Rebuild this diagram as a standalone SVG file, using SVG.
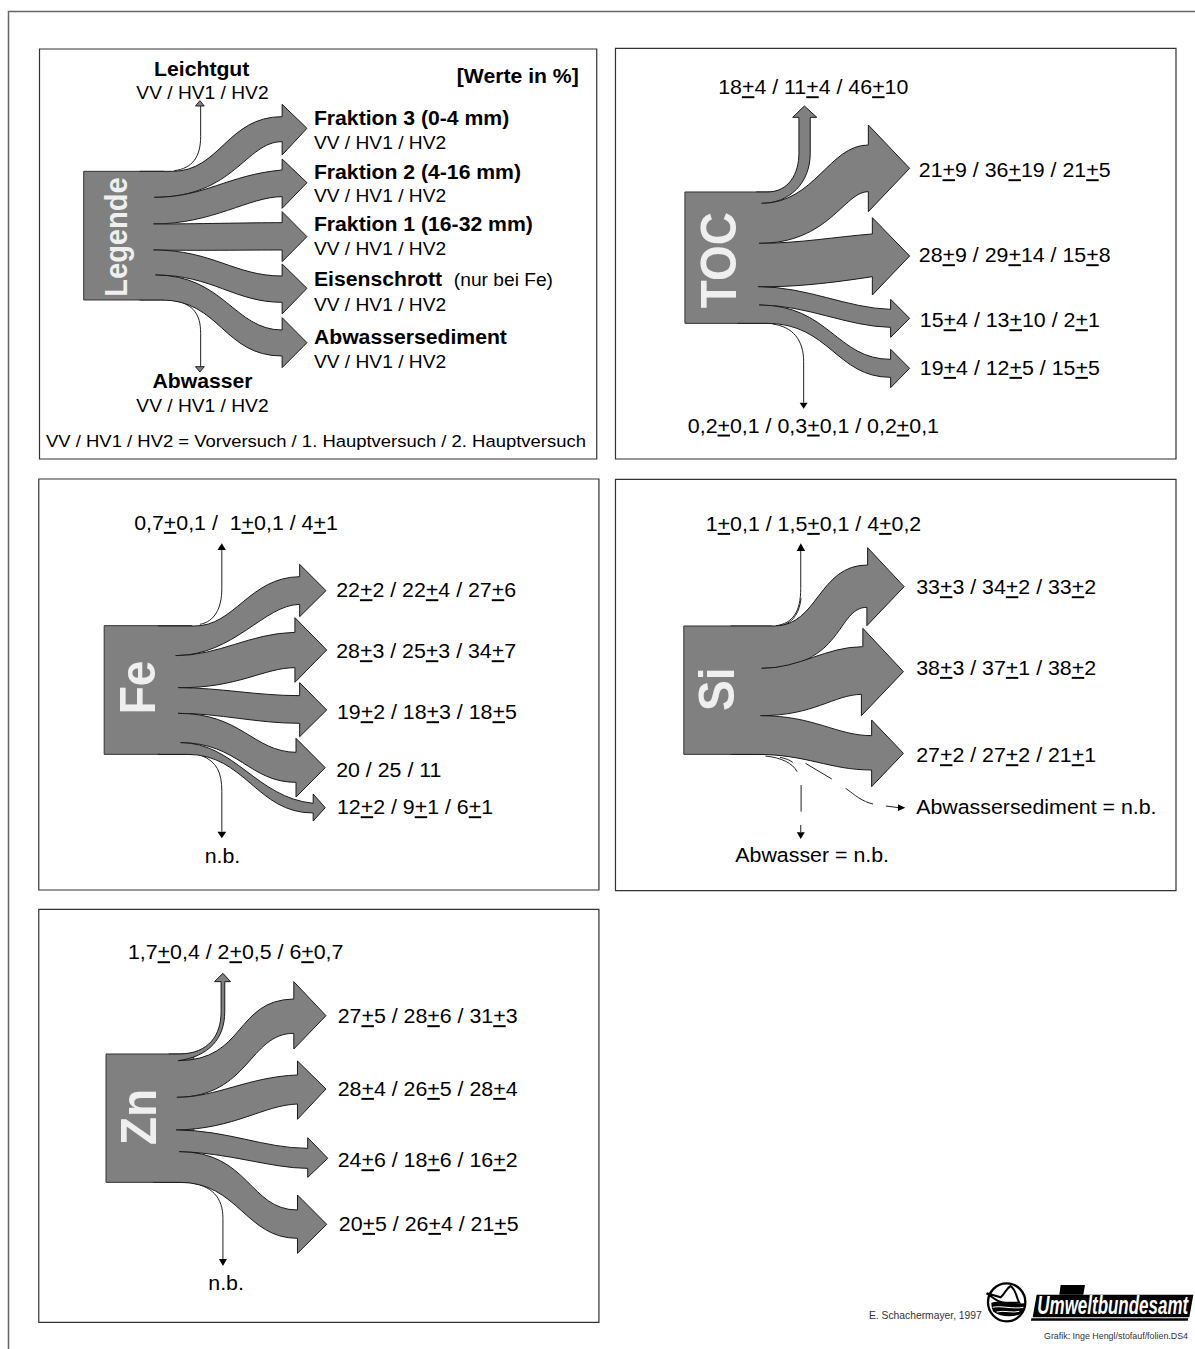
<svg xmlns="http://www.w3.org/2000/svg" width="1195" height="1349" viewBox="0 0 1195 1349">
<style>
text{font-family:"Liberation Sans",Arial,sans-serif;fill:#000}
.p{fill:#fff;stroke:#333;stroke-width:1.2;vector-effect:non-scaling-stroke}
.b{fill:#808080;stroke:#333;stroke-width:1;vector-effect:non-scaling-stroke}
.f{fill:#808080;stroke:#1a1a1a;stroke-width:1;vector-effect:non-scaling-stroke}
.l{fill:none;stroke:#222;stroke-width:1;vector-effect:non-scaling-stroke}
.h{fill:#000;stroke:none}
.hg{fill:#808080;stroke:#222;stroke-width:1;vector-effect:non-scaling-stroke}
.s{font-size:52.5px}
.bd{font-size:58px;font-weight:bold}
.v{font-size:58.5px}
.m{text-anchor:middle}
.k{font-size:138px;font-weight:bold;fill:#efefef}
.u{text-decoration:underline}
</style>
<path d="M8.5 1349V11.5H1195" fill="none" stroke="#666" stroke-width="1.5"/>

<g id="legend" transform="translate(30 40) scale(.3654 .33333)">
<rect class="p" x="26" y="27" width="1525" height="1230"/>
<rect class="b" x="147" y="394" width="220" height="386"/>
<text class="k" style="font-size:87px" transform="translate(265 770) rotate(-90)">Legende</text>
<text class="bd m" x="470" y="107">Leichtgut</text>
<text class="s m" x="472" y="177">VV / HV1 / HV2</text>
<text class="bd" x="1168" y="130">[Werte in %]</text>
<text class="bd" x="777" y="255">Fraktion 3 (0-4 mm)</text>
<text class="s" x="777" y="327">VV / HV1 / HV2</text>
<text class="bd" x="777" y="418">Fraktion 2 (4-16 mm)</text>
<text class="s" x="777" y="487">VV / HV1 / HV2</text>
<text class="bd" x="777" y="573">Fraktion 1 (16-32 mm)</text>
<text class="s" x="777" y="645">VV / HV1 / HV2</text>
<text class="bd" x="777" y="738">Eisenschrott</text>
<text class="s" x="1160" y="738">(nur bei Fe)</text>
<text class="s" x="777" y="812">VV / HV1 / HV2</text>
<text class="bd" x="777" y="913">Abwassersediment</text>
<text class="s" x="777" y="985">VV / HV1 / HV2</text>
<text class="bd m" x="472" y="1043">Abwasser</text>
<text class="s m" x="472" y="1115">VV / HV1 / HV2</text>
<text class="s" style="font-size:50.5px" x="44" y="1222">VV / HV1 / HV2 = Vorversuch / 1. Hauptversuch / 2. Hauptversuch</text>
</g>

<g id="toc" transform="translate(610 40) scale(.3654 .33333)">
<rect class="p" x="15" y="25" width="1534" height="1232"/>
<rect class="b" x="205" y="456" width="240" height="394"/>
<text class="k" transform="translate(345 805) rotate(-90)">TOC</text>
<text class="v" x="296" y="163">18<tspan class="u">+</tspan>4 / 11<tspan class="u">+</tspan>4 / 46<tspan class="u">+</tspan>10</text>
<text class="v" x="845" y="412">21<tspan class="u">+</tspan>9 / 36<tspan class="u">+</tspan>19 / 21<tspan class="u">+</tspan>5</text>
<text class="v" x="845" y="667">28<tspan class="u">+</tspan>9 / 29<tspan class="u">+</tspan>14 / 15<tspan class="u">+</tspan>8</text>
<text class="v" x="848" y="862">15<tspan class="u">+</tspan>4 / 13<tspan class="u">+</tspan>10 / 2<tspan class="u">+</tspan>1</text>
<text class="v" x="848" y="1005">19<tspan class="u">+</tspan>4 / 12<tspan class="u">+</tspan>5 / 15<tspan class="u">+</tspan>5</text>
<text class="v" x="213" y="1178">0,2<tspan class="u">+</tspan>0,1 / 0,3<tspan class="u">+</tspan>0,1 / 0,2<tspan class="u">+</tspan>0,1</text>
</g>

<g id="fe" transform="translate(30 475) scale(.3654 .33333)">
<rect class="p" x="24" y="12" width="1533" height="1233"/>
<rect class="b" x="203" y="452" width="240" height="386"/>
<text class="k" transform="translate(343 718) rotate(-90)">Fe</text>
<text class="v" x="285" y="165" style="white-space:pre">0,7<tspan class="u">+</tspan>0,1 /  1<tspan class="u">+</tspan>0,1 / 4<tspan class="u">+</tspan>1</text>
<text class="v" x="838" y="367">22<tspan class="u">+</tspan>2 / 22<tspan class="u">+</tspan>4 / 27<tspan class="u">+</tspan>6</text>
<text class="v" x="838" y="550">28<tspan class="u">+</tspan>3 / 25<tspan class="u">+</tspan>3 / 34<tspan class="u">+</tspan>7</text>
<text class="v" x="840" y="733">19<tspan class="u">+</tspan>2 / 18<tspan class="u">+</tspan>3 / 18<tspan class="u">+</tspan>5</text>
<text class="v" x="838" y="905">20 / 25 / 11</text>
<text class="v" x="840" y="1018">12<tspan class="u">+</tspan>2 / 9<tspan class="u">+</tspan>1 / 6<tspan class="u">+</tspan>1</text>
<text class="v" x="478" y="1163">n.b.</text>
</g>

<g id="si" transform="translate(610 475) scale(.3654 .33333)">
<rect class="p" x="15" y="13" width="1534" height="1234"/>
<rect class="b" x="202" y="453" width="240" height="385"/>
<text class="k" transform="translate(340 708) rotate(-90)">Si</text>
<text class="v" x="262" y="168">1<tspan class="u">+</tspan>0,1 / 1,5<tspan class="u">+</tspan>0,1 / 4<tspan class="u">+</tspan>0,2</text>
<text class="v" x="838" y="358">33<tspan class="u">+</tspan>3 / 34<tspan class="u">+</tspan>2 / 33<tspan class="u">+</tspan>2</text>
<text class="v" x="838" y="600">38<tspan class="u">+</tspan>3 / 37<tspan class="u">+</tspan>1 / 38<tspan class="u">+</tspan>2</text>
<text class="v" x="838" y="862">27<tspan class="u">+</tspan>2 / 27<tspan class="u">+</tspan>2 / 21<tspan class="u">+</tspan>1</text>
<text class="v" x="838" y="1018">Abwassersediment = n.b.</text>
<text class="v" x="343" y="1162">Abwasser = n.b.</text>
</g>

<g id="zn" transform="translate(30 905) scale(.3654 .33333)">
<rect class="p" x="24" y="13" width="1533" height="1239"/>
<rect class="b" x="208" y="447" width="240" height="385"/>
<text class="k" transform="translate(346 720) rotate(-90)">Zn</text>
<text class="v" x="268" y="163">1,7<tspan class="u">+</tspan>0,4 / 2<tspan class="u">+</tspan>0,5 / 6<tspan class="u">+</tspan>0,7</text>
<text class="v" x="842" y="355">27<tspan class="u">+</tspan>5 / 28<tspan class="u">+</tspan>6 / 31<tspan class="u">+</tspan>3</text>
<text class="v" x="842" y="573">28<tspan class="u">+</tspan>4 / 26<tspan class="u">+</tspan>5 / 28<tspan class="u">+</tspan>4</text>
<text class="v" x="842" y="787">24<tspan class="u">+</tspan>6 / 18<tspan class="u">+</tspan>6 / 16<tspan class="u">+</tspan>2</text>
<text class="v" x="845" y="978">20<tspan class="u">+</tspan>5 / 26<tspan class="u">+</tspan>4 / 21<tspan class="u">+</tspan>5</text>
<text class="v" x="488" y="1155">n.b.</text>
</g>

<g id="connectors">
<g id="legend-flows" transform="translate(30 40) scale(.3654 .33333)">
<path class="l" d="M395 392C445 385 467 350 467 290V198"/>
<path class="hg" d="M453 198L465 182L477 198Z"/>
<path class="l" d="M400 782C445 795 467 820 467 880V980"/>
<path class="hg" d="M453 980L465 996L477 980Z"/>
<path class="f" d="M300 394H390C520 394 540 230 690 230V193L758 265L690 345V305C590 305 560 472 340 472"/>
<path class="f" d="M340 472C480 472 540 405 690 390V357L758 428L690 505V470C600 470 500 552 338 552"/>
<path class="f" d="M338 552C450 552 600 548 690 548V515L758 590L690 665V630C600 630 450 632 338 630"/>
<path class="f" d="M338 630C500 630 560 708 690 708V672L758 745L690 822V787C560 787 500 705 343 705"/>
<path class="f" d="M343 705C530 705 560 870 690 870V833L758 908L690 983V948C530 948 520 780 360 780H300"/>
</g>
<g id="toc-flows" transform="translate(610 40) scale(.3654 .33333)">
<path class="l" d="M445 852C500 860 530 900 530 965V1088"/>
<path class="h" d="M519 1088L530 1106L541 1088Z"/>
<path class="f" d="M400 456H430C490 456 517 400 517 340V232H500L532 198L566 232H548V340C548 430 490 490 415 490"/>
<path class="f" d="M415 490C560 490 600 315 707 315V255L820 385L707 515V455C640 455 600 610 408 610"/>
<path class="f" d="M408 610C520 610 620 590 718 582V533L820 648L718 765V710C600 730 500 742 405 740"/>
<path class="f" d="M405 740C540 740 650 805 768 808V778L820 835L768 892V862C650 860 540 795 408 795"/>
<path class="f" d="M408 795C600 795 620 958 768 958V928L820 985L768 1043V1012C620 1012 600 850 430 850H350"/>
</g>
<g id="fe-flows" transform="translate(30 475) scale(.3654 .33333)">
<path class="l" d="M465 448C505 440 525 400 525 340V225"/>
<path class="h" d="M513 225L525 205L536 225Z"/>
<path class="l" d="M470 842C510 860 525 890 525 950V1070"/>
<path class="h" d="M513 1070L525 1090L537 1070Z"/>
<path class="f" d="M350 453H450C560 454 600 307 738 305V268L810 347L738 425V388C640 390 560 540 400 542"/>
<path class="f" d="M398 542C520 542 600 475 725 472V428L812 525L725 622V578C640 578 570 640 405 638"/>
<path class="f" d="M405 638C520 638 620 662 738 662V623L812 705L738 785V745C620 745 520 715 405 715"/>
<path class="f" d="M405 715C580 715 610 830 728 832V790L808 878L728 966V922C600 922 570 803 412 803"/>
<path class="f" d="M412 803C560 803 620 968 775 985V957L808 998L775 1038V1014C620 1014 590 838 430 838H350"/>
</g>
<g id="si-flows" transform="translate(610 475) scale(.3654 .33333)">
<path class="l" d="M455 452C500 445 522 410 522 340V228"/>
<path class="l" d="M472 451C505 440 518 410 523 370"/>
<path class="h" d="M511 228L522 205L534 228Z"/>
<path class="f" d="M330 453H450C570 453 570 270 705 270V218L805 335L703 452V397C620 397 640 578 415 580"/>
<path class="f" d="M415 580C520 580 590 515 692 515V460L803 590L688 722V658C610 660 560 722 412 722"/>
<path class="f" d="M412 722C560 722 620 782 716 782V735L803 835L716 935V885C600 885 540 838 400 838H330"/>
<path class="l" d="M425 843C470 848 500 865 512 890M465 847C480 850 492 855 500 862M523 930V1010M522 1050V1072M535 865L607 912M645 940C670 960 690 980 720 987M755 993L790 998"/>
<path class="h" d="M511 1072L522 1092L533 1072Z"/>
<path class="h" d="M788 988L808 998L788 1008Z"/>
</g>
<g id="zn-flows" transform="translate(30 905) scale(.3654 .33333)">
<path class="l" d="M430 832C500 840 528 880 528 940V1062"/>
<path class="h" d="M517 1062L528 1083L539 1062Z"/>
<path class="f" d="M380 447H410C490 445 523 390 523 320V230H505L528 205L549 230H533V320C533 400 490 455 405 467"/>
<path class="f" d="M405 467C590 467 560 285 722 282V230L810 332L722 432V385C600 385 600 575 402 577"/>
<path class="f" d="M402 577C510 577 600 515 732 510V468L810 552L732 643V597C640 600 560 672 400 675"/>
<path class="f" d="M400 675C540 675 640 730 760 730V698L815 760L760 817V790C660 790 540 742 408 740"/>
<path class="f" d="M408 740C600 740 600 915 732 915V870L812 958L732 1045V1000C590 1000 570 832 410 832H338"/>
</g>
</g>

<g id="credit">
<text x="869" y="1319" font-size="10.3" style="fill:#333">E. Schachermayer, 1997</text>
<text x="1044" y="1339" font-size="8.9" style="fill:#333">Grafik: Inge Hengl/stofauf/folien.DS4</text>
</g>

<g id="logo" transform="translate(850 1260) scale(.33333)">
<ellipse cx="470" cy="127" rx="56" ry="57" fill="#fff" stroke="#000" stroke-width="7"/>
<path d="M410 100L452 112C466 100 468 85 482 78C500 92 498 112 508 128L470 128C450 130 435 118 410 100Z" fill="#fff" stroke="#000" stroke-width="6"/>
<path d="M424 128C450 120 490 134 522 130C524 145 518 158 505 165C480 172 450 170 430 155C426 147 424 138 424 128Z" fill="#000"/>
<path d="M428 142C450 136 490 148 520 142M440 156C460 150 490 160 508 154" fill="none" stroke="#fff" stroke-width="3"/>
<path d="M632 75H705L700 104H628Z" fill="#000"/>
<path d="M560 104H1030L1018 172H548Z" fill="#000"/>
<path d="M544 175H1015L1013 182H543Z" fill="#000"/>
<text transform="translate(562 162) scale(.67 1)" font-size="76" font-weight="bold" font-style="italic" style="fill:#fff">Umweltbundesamt</text>
</g>
</svg>
